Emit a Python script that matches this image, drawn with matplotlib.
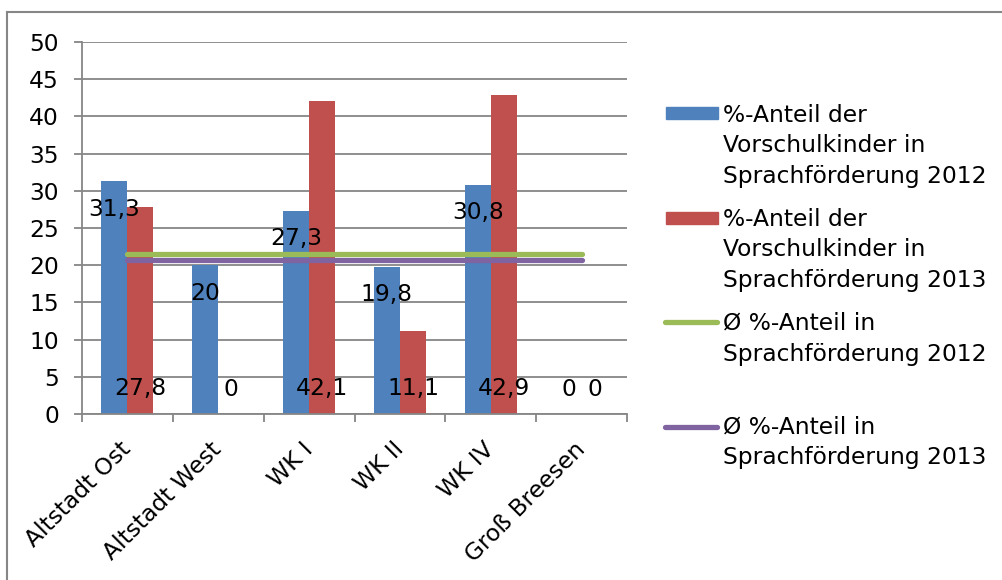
import matplotlib
matplotlib.use("Agg")
import matplotlib.pyplot as plt
import numpy as np
from matplotlib.patches import Rectangle
from matplotlib.lines import Line2D

plt.rcParams['font.family'] = ['DejaVu Sans']

categories = ["Altstadt Ost", "Altstadt West", "WK I", "WK II", "WK IV", "Groß Breesen"]
values_2012 = [31.3, 20, 27.3, 19.8, 30.8, 0]
values_2013 = [27.8, 0, 42.1, 11.1, 42.9, 0]
avg_2012 = [21.5] * 6
avg_2013 = [20.7] * 6
yticks = list(range(0, 51, 5))
legend_labels = [
    "%-Anteil der\nVorschulkinder in\nSprachförderung 2012",
    "%-Anteil der\nVorschulkinder in\nSprachförderung 2013",
    "Ø %-Anteil in\nSprachförderung 2012",
    "Ø %-Anteil in\nSprachförderung 2013",
]

BLUE = "#4F81BD"
RED = "#C0504D"
GREEN = "#9BBB59"
PURPLE = "#8064A2"
GRID = "#868686"

W, H = 1002, 580
fig = plt.figure(figsize=(W / 100, H / 100), dpi=100)
ax = fig.add_axes([82 / W, 1 - 414 / H, (627 - 82) / W, (414 - 42) / H])

x = np.arange(len(categories))
bw = 0.287
ax.bar(x - bw / 2, values_2012, bw, color=BLUE, zorder=2)
ax.bar(x + bw / 2, values_2013, bw, color=RED, zorder=2)
ax.plot(x, avg_2012, color=GREEN, lw=3.8, solid_capstyle='round', zorder=3)
ax.plot(x, avg_2013, color=PURPLE, lw=3.8, solid_capstyle='round', zorder=3)

fs = 16.8
def fmt(v):
    return f"{v:g}".replace(".", ",")

for xi, v in zip(x, values_2012):
    if v > 0:
        ax.annotate(fmt(v), (xi - bw / 2, v), xytext=(0, -28),
                    textcoords="offset pixels", ha="center", va="center", fontsize=fs, zorder=4)
    else:
        ax.annotate(fmt(v), (xi - bw / 2, 0), xytext=(0, 25),
                    textcoords="offset pixels", ha="center", va="center", fontsize=fs, zorder=4)
for xi, v in zip(x, values_2013):
    ax.annotate(fmt(v), (xi + bw / 2, 0), xytext=(0, 25),
                textcoords="offset pixels", ha="center", va="center", fontsize=fs, zorder=4)

ax.set_xlim(-0.5, len(categories) - 0.5)
ax.set_ylim(0, 50)
ax.set_yticks(yticks)
ax.set_yticklabels([str(t) for t in yticks], fontsize=fs)
ax.yaxis.grid(True, color=GRID, lw=1.3, zorder=0)
ax.set_axisbelow(True)
ax.tick_params(axis='y', length=6.1, color=GRID, width=1.3, pad=10.5)

ax.set_xticks(x)
ax.set_xticklabels(categories, fontsize=fs, rotation=45, ha="right", va="center",
                   rotation_mode="anchor")
ax.tick_params(axis='x', length=0, pad=23)
ax.set_xticks(np.arange(-0.5, len(categories)), minor=True)
ax.tick_params(axis='x', which='minor', length=5.6, color=GRID, width=1.3)

for s in ["top", "right"]:
    ax.spines[s].set_visible(False)
for s in ["left", "bottom"]:
    ax.spines[s].set_color(GRID)
    ax.spines[s].set_linewidth(1.3)

# outer chart border (top and left edges visible; the rest is cropped)
fig.add_artist(Line2D([6.5 / W, 1.05], [1 - 12 / H] * 2, transform=fig.transFigure,
                      color=GRID, lw=1.5))
fig.add_artist(Line2D([6.5 / W] * 2, [-0.05, 1 - 12 / H], transform=fig.transFigure,
                      color=GRID, lw=1.5))

# legend (manual layout: handle + one baseline per text line)
line_step = 30.7
entries = [
    (legend_labels[0], "patch", BLUE, 113, 121.7),
    (legend_labels[1], "patch", RED, 218, 225.5),
    (legend_labels[2], "line", GREEN, 322, 330),
    (legend_labels[3], "line", PURPLE, 427, 433.5),
]
for label, kind, color, yh, ybase in entries:
    if kind == "patch":
        fig.add_artist(Rectangle((666 / W, 1 - (yh + 6) / H), 52 / W, 12 / H,
                                 transform=fig.transFigure, color=color))
    else:
        fig.add_artist(Line2D([665 / W, 717 / W], [1 - yh / H] * 2,
                              transform=fig.transFigure, color=color, lw=3.8,
                              solid_capstyle='round'))
    for i, line in enumerate(label.split("\n")):
        fig.text(723 / W, 1 - (ybase + i * line_step) / H, line, fontsize=fs,
                 ha="left", va="baseline")

fig.savefig("out.png", dpi=100)
